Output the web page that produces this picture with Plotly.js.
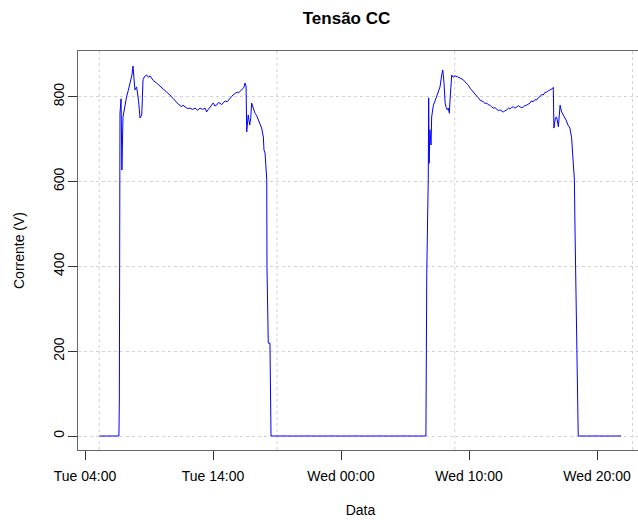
<!DOCTYPE html>
<html>
<head>
<meta charset="utf-8">
<script src="https://cdn.plot.ly/plotly-3.0.1.min.js"></script>
<style>
  html, body { margin: 0; padding: 0; background: #ffffff; overflow: hidden; }
  #chart { width: 660px; height: 520px; }
</style>
</head>
<body>
<div id="chart"></div>
<script>
// Tensão CC sampled over two days (Tue / Wed)
const dia1 = '2020-01-07';
const dia2 = '2020-01-08';

const horas1 = ['05:08','06:39','06:41','06:44','06:49','06:53','06:58','07:03','07:09','07:15',
  '07:23','07:31','07:40','07:45','07:50','07:54','08:02','08:11','08:18','08:26',
  '08:32','08:40','08:49','08:57','09:05','09:20','09:36','09:50','10:06','10:22',
  '10:38','10:54','11:10','11:18','11:25','11:32','11:39','11:49','12:00','12:12',
  '12:24','12:36','12:48','12:59','13:11','13:23','13:30','13:38','13:46','14:01',
  '14:09','14:17','14:25','14:33','14:40','14:48','14:57','15:06','15:13','15:20',
  '15:27','15:34','15:43','15:53','16:00','16:07','16:19','16:25','16:30','16:35',
  '16:38','16:45','16:52','16:57','17:01','17:08','17:12','17:17','17:25','17:32',
  '17:40','17:48','17:56','17:59','18:04','18:08','18:12','18:13','18:19','18:27',
  '18:30','18:32'];
const tensao1 = [0,0,85,761,795,627,752,769,782,800,
  815,832,851,872,830,816,823,790,750,757,
  840,848,851,846,849,838,832,826,820,812,
  804,795,785,782,780,776,780,776,772,773,
  770,773,768,773,770,773,764,770,776,785,
  778,780,786,785,781,785,790,788,793,795,
  800,804,808,811,809,813,820,822,832,825,
  717,757,733,750,785,773,764,761,755,745,
  738,726,705,674,667,643,604,399,219,219,
  104,0];

const horas2 = ['06:38','06:39','06:42','06:46','06:49','06:51','06:53','06:57','07:02','07:05',
  '07:13','07:21','07:29','07:37','07:44','07:52','07:57','08:03','08:08','08:13',
  '08:18','08:23','08:28','08:31','08:36','08:39','08:46','08:54','09:06','09:18',
  '09:33','09:41','09:49','09:57','10:05','10:12','10:20','10:28','10:36','10:44',
  '10:52','11:00','11:07','11:15','11:23','11:30','11:38','11:46','11:54','12:02',
  '12:10','12:18','12:25','12:33','12:41','12:49','12:57','13:05','13:12','13:20',
  '13:28','13:36','13:44','13:52','13:59','14:07','14:15','14:22','14:30','14:38',
  '14:46','14:53','15:01','15:09','15:17','15:25','15:33','15:40','15:48','15:56',
  '16:04','16:12','16:20','16:28','16:35','16:38','16:45','16:51','16:59','17:07',
  '17:14','17:22','17:35','17:44','17:53','18:01','18:05','18:09','18:14','18:17',
  '18:22','18:26','18:29','18:32','21:53'];
const tensao2 = [0,156,380,514,604,797,643,722,686,752,
  780,790,800,812,823,851,863,832,785,775,
  769,773,761,792,840,851,846,849,847,844,
  840,835,832,827,820,816,811,807,804,797,
  792,790,788,784,785,781,780,776,773,774,
  771,767,769,766,764,767,769,773,771,775,
  776,773,776,779,776,774,776,779,780,783,
  785,790,788,793,792,798,800,805,804,810,
  811,814,816,818,822,726,750,752,729,780,
  764,757,745,733,726,703,674,651,604,486,
  304,215,104,0,0];

// axis ticks
const xTickVals = ['2020-01-07 04:00','2020-01-07 14:00','2020-01-08 00:00','2020-01-08 10:00','2020-01-08 20:00'];
const xTickText = ['Tue 04:00','Tue 14:00','Wed 00:00','Wed 10:00','Wed 20:00'];
const yTickVals = [0, 200, 400, 600, 800];
// vertical grid positions (every 50000 s)
const gridTimes = ['2020-01-07 05:06:40','2020-01-07 19:00:00','2020-01-08 08:53:20','2020-01-08 22:46:40'];

const x = horas1.map(h => dia1 + ' ' + h).concat(horas2.map(h => dia2 + ' ' + h));
const y = tensao1.concat(tensao2);

const fontFam = '"Liberation Sans", Arial, sans-serif';

const trace = {
  x: x, y: y, type: 'scatter', mode: 'lines',
  line: { color: '#0000ff', width: 1 },
  hoverinfo: 'x+y'
};

const gridShapes = gridTimes.map(t => ({
  type: 'line', xref: 'x', yref: 'paper', x0: t, x1: t, y0: 0, y1: 1,
  line: { color: '#d3d3d3', width: 1, dash: 'dot' }, layer: 'below'
}));

const layout = {
  width: 660, height: 520,
  margin: { l: 78, r: 17, t: 51, b: 70 },
  paper_bgcolor: '#ffffff', plot_bgcolor: '#ffffff',
  font: { family: fontFam, size: 14, color: '#000000' },
  showlegend: false,
  title: {
    text: '<b>Tensão CC</b>',
    font: { family: fontFam, size: 17, color: '#000000' },
    xref: 'container', x: 0.525, xanchor: 'center',
    yref: 'container', y: 1 - 18 / 520, yanchor: 'middle'
  },
  xaxis: {
    type: 'date',
    range: ['2020-01-07 03:27:11', '2020-01-08 23:35:38'],
    tickmode: 'array', tickvals: xTickVals, ticktext: xTickText,
    ticks: 'outside', ticklen: 9, tickcolor: '#333333', tickwidth: 1,
    ticklabelstandoff: 4,
    showgrid: false, zeroline: false,
    showline: true, mirror: true, linecolor: '#666666', linewidth: 1,
    tickfont: { family: fontFam, size: 14, color: '#000000' },
    title: { text: 'Data', font: { family: fontFam, size: 14, color: '#000000' }, standoff: 22 }
  },
  yaxis: {
    range: [-33, 907.7],
    tickmode: 'array', tickvals: yTickVals,
    ticks: 'outside', ticklen: 9, tickcolor: '#333333', tickwidth: 1,
    tickangle: -90,
    ticklabelstandoff: -2,
    showgrid: true, gridcolor: '#d3d3d3', griddash: 'dot', gridwidth: 1,
    zeroline: false,
    showline: true, mirror: true, linecolor: '#666666', linewidth: 1,
    tickfont: { family: fontFam, size: 14, color: '#000000' },
    title: { text: 'Corrente (V)', font: { family: fontFam, size: 14, color: '#000000' }, standoff: 23 }
  },
  shapes: gridShapes
};

Plotly.newPlot('chart', [trace], layout, { displayModeBar: false, staticPlot: true });
</script>
</body>
</html>
